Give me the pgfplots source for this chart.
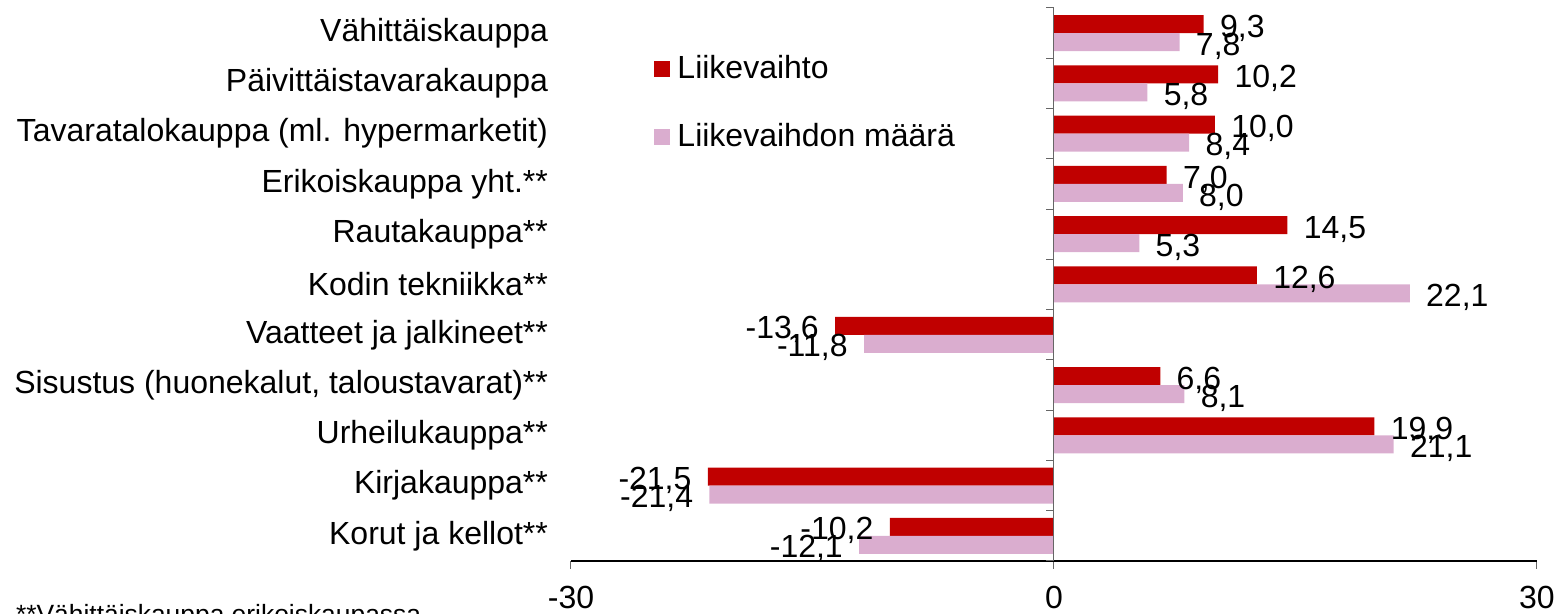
\documentclass[border=0pt]{standalone}
\usepackage{fontspec}
\setmainfont{Liberation Sans}
\usepackage{pgfplots}
\pgfplotsset{compat=1.18}
\definecolor{lvred}{HTML}{C00000}
\definecolor{lvpink}{HTML}{DAADCF}

\begin{document}
\fontsize{16}{19}\selectfont
\begin{tikzpicture}
\begin{axis}[
    scale only axis, width=483pt, height=276.5pt,
    xbar, bar width=9pt,
    xmin=-30, xmax=30, ymin=-0.5, ymax=10.5,
    axis x line*=bottom, axis y line*=left,
    y axis line style={draw=none},
    x axis line style={black, line width=0.6pt},
    xtick={-30,0,30}, xticklabels={-30,0,30},
    x tick style={black!60, line width=0.5pt},
    x tick label style={yshift=-3pt},
    major tick length=4pt, tick align=outside,
    ytick={0,...,10}, y tick style={draw=none},
    yticklabels={Korut ja kellot**, Kirjakauppa**, Urheilukauppa**,
      {Sisustus (huonekalut, taloustavarat)**}, Vaatteet ja jalkineet**,
      Kodin tekniikka**, Rautakauppa**, Erikoiskauppa yht.**,
      Tavaratalokauppa (ml. hypermarketit), Päivittäistavarakauppa,
      Vähittäiskauppa},
    y tick label style={xshift=-2pt},
    nodes near coords={\pgfmathprintnumber[fixed,fixed zerofill,precision=1,use comma,assume math mode=true]{\pgfplotspointmeta}},
    nodes near coords style={inner xsep=8pt, inner ysep=0pt, yshift=-2pt},
    legend style={at={(rel axis cs:0.086,0.923)}, anchor=north west,
      draw=none, fill=none, inner sep=0pt, row sep=16pt,
      nodes={inner sep=2pt}},
    legend cell align=left,
    legend image code/.code={\path[#1, draw=none] (0pt,-4pt) rectangle (8pt,4pt);},
    clip=false,
]
\addplot[fill=lvred, draw=none, bar shift=4.5pt] coordinates {
  (9.3,10) (10.2,9) (10.0,8) (7.0,7) (14.5,6) (12.6,5)
  (-13.6,4) (6.6,3) (19.9,2) (-21.5,1) (-10.2,0)};
\addlegendentry{\hspace{1.5pt}Liikevaihto}
\addplot[fill=lvpink, draw=none, bar shift=-4.5pt] coordinates {
  (7.8,10) (5.8,9) (8.4,8) (8.0,7) (5.3,6) (22.1,5)
  (-11.8,4) (8.1,3) (21.1,2) (-21.4,1) (-12.1,0)};
\addlegendentry{\hspace{1.5pt}Liikevaihdon määrä}
\draw[black!60, line width=0.5pt] (axis cs:0,-0.5) -- (axis cs:0,10.5);
\pgfplotsinvokeforeach{-0.5,0.5,...,10.5}{
  \draw[black!60, line width=0.5pt] (axis cs:0,#1) -- ++(-4pt,0pt);
}
\end{axis}
\node[anchor=base west, font=\fontsize{13.2}{15}\selectfont] at (-283pt,-31.5pt) {**Vähittäiskauppa erikoiskaupassa};
\pgfresetboundingbox
\path[use as bounding box] (-285.5pt,-26.5pt) rectangle (496pt,280.5pt);
\end{tikzpicture}
\end{document}
